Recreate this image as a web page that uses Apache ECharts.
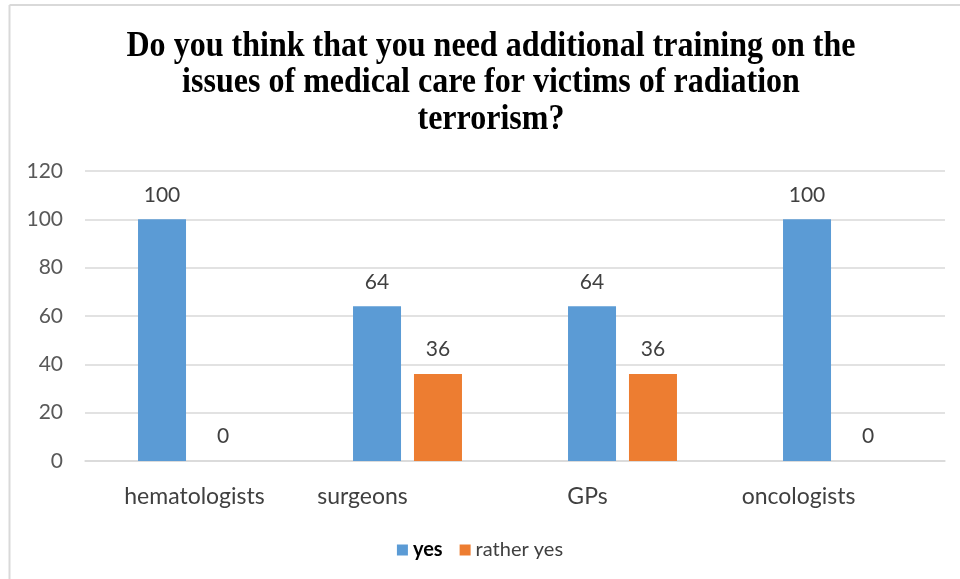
<!DOCTYPE html>
<html><head><meta charset="utf-8">
<script src="https://cdn.jsdelivr.net/npm/echarts@6/dist/echarts.min.js"></script>
<style>html,body{margin:0;padding:0;background:#fff}#c{width:960px;height:579px}</style>
</head><body><div id="c"></div>
<script>
const categories = ['hematologists', 'surgeons', 'GPs', 'oncologists'];
const yesValues = [100, 64, 64, 100];
const ratherYesValues = [0, 36, 36, 0];
const yTicks = [0, 20, 40, 60, 80, 100, 120];
const titleText = 'Do you think that you need additional training on the\nissues of medical care for victims of radiation\nterrorism?';

const labelFont = 'Lato';
const chart = echarts.init(document.getElementById('c'));
chart.setOption({
  animation: false,
  backgroundColor: '#fff',
  graphic: [
    { type: 'line', shape: { x1: 9.5, y1: 5, x2: 960, y2: 5 }, style: { stroke: '#d9d9d9', lineWidth: 2 } },
    { type: 'line', shape: { x1: 9.5, y1: 5, x2: 9.5, y2: 579 }, style: { stroke: '#d9d9d9', lineWidth: 2 } },
    { type: 'text', x: 491, y: 83, scaleX: 0.89, originX: 0, style: {
        text: titleText, x: 0, y: 0, align: 'center', verticalAlign: 'middle',
        font: 'bold 36px "Liberation Serif"', lineHeight: 36.5, fill: '#000' } }
  ],
  legend: {
    data: [{ name: 'yes', textStyle: { fontWeight: 'bold', color: '#000' } }, 'rather yes'],
    left: 'center', top: 535, itemWidth: 11, itemHeight: 11, itemGap: 17,
    icon: 'rect',
    textStyle: { fontFamily: labelFont, fontSize: 20, color: '#404040' }
  },
  grid: { left: 85, right: 15, top: 171, bottom: 118 },
  xAxis: {
    type: 'category', data: categories,
    axisLine: { lineStyle: { color: '#d9d9d9', width: 1.5 } },
    axisTick: { show: false },
    axisLabel: {
      interval: 0, hideOverlap: false,
      margin: 24, color: '#404040', fontFamily: labelFont, fontSize: 23,
      formatter: (v, i) => '{c' + i + '|' + v + '}',
      rich: {
        c0: { padding: [0, 0, 0, 4] },
        c1: { padding: [0, 90, 0, 0] },
        c2: { padding: [0, 70, 0, 0] },
        c3: { padding: [0, 78, 0, 0] }
      }
    }
  },
  yAxis: {
    type: 'value', min: 0, max: 120, interval: 20,
    axisLine: { show: false }, axisTick: { show: false },
    splitLine: { lineStyle: { color: '#d9d9d9', width: 1.5 } },
    axisLabel: { margin: 22, color: '#595959', fontFamily: labelFont, fontSize: 21,
      formatter: v => yTicks.includes(v) ? String(v) : '' }
  },
  series: [
    { name: 'yes', type: 'bar', data: yesValues, barWidth: 48, barGap: '27%',
      itemStyle: { color: '#5b9bd5' },
      label: { show: true, position: 'top', distance: 14, color: '#404040', fontFamily: labelFont, fontSize: 21 } },
    { name: 'rather yes', type: 'bar', data: ratherYesValues, barWidth: 48,
      itemStyle: { color: '#ed7d31' },
      label: { show: true, position: 'top', distance: 14, color: '#404040', fontFamily: labelFont, fontSize: 21 } }
  ]
});
</script></body></html>
